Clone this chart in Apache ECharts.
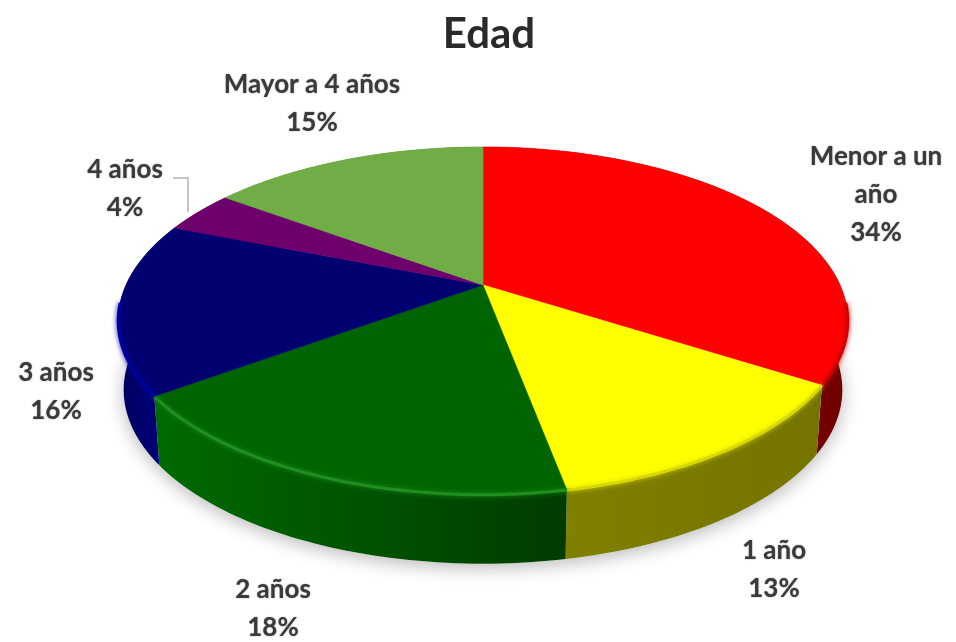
<!DOCTYPE html>
<html><head><meta charset="utf-8">
<style>html,body{margin:0;padding:0;background:#fff}#c{width:956px;height:642px}</style>
<script src="https://cdn.jsdelivr.net/npm/echarts@6/dist/echarts.min.js"></script>
</head><body><div id="c"></div>
<script>
const titleText = 'Edad';
const categories = ['Menor a un\naño', '1 año', '2 años', '3 años', '4 años', 'Mayor a 4 años'];
const values = [34, 13, 18, 16, 4, 15];

// Styles and layout, kept apart from the data
const topColors = ['#ff0000', '#ffff00', '#006400', '#000070', '#6e006e', '#70ad47'];
const sideColors = [['#a80000', '#700000'], ['#808000', '#747400'], ['#006a00', '#003c00'], ['#000060', '#000080'], ['#400040', '#400040'], ['#40602a', '#40602a']];
const rimColors = ['#d00000', '#d8d800', '#1f8f1f', '#0000a0', '#6e006e', '#70ad47'];
const labelCenters = [[876, 157], [774, 551], [273, 590], [56, 373], [125, 170], [312, 85]];
const P = { cx: 483, cy: 285, a: 357, b: 166.5, k: 0.206, depth: 69, inset: 0.985 };

const total = values.reduce((s, v) => s + v, 0);
const starts = values.reduce((acc, v, i) => { acc.push(i ? acc[i - 1] + values[i - 1] : 0); return acc; }, []);

function topPt(t) {
  const u = Math.sin(t), v = Math.cos(t), w = 1 + P.k * v;
  return [P.cx + P.a * u / w, P.cy - P.b * v / w];
}
function botPt(t) {
  const p = topPt(t);
  return [P.cx + (p[0] - P.cx) * P.inset, p[1] + P.depth];
}
function arc(fn, i) {
  const a0 = starts[i] / total * 2 * Math.PI, a1 = (starts[i] + values[i]) / total * 2 * Math.PI;
  const n = Math.max(8, Math.round(values[i] * 3)), pts = [];
  for (let j = 0; j <= n; j++) pts.push(fn(a0 + (a1 - a0) * j / n));
  return pts;
}
const seriesData = values.map((v, i) => [i, v]);

function shadowItem(params) {
  const i = params.dataIndex;
  return { type: 'polygon', shape: { points: [[P.cx, P.cy + P.depth]].concat(arc(botPt, i)) },
    style: { fill: '#fff', shadowBlur: 18, shadowColor: 'rgba(0,0,0,0.28)', shadowOffsetY: 4 } };
}
function sideItem(params) {
  const i = params.dataIndex;
  const t = arc(topPt, i), b = arc(botPt, i).reverse();
  return { type: 'polygon', shape: { points: t.concat(b) },
    style: { fill: { type: 'linear', x: 0, y: 0, x2: 1, y2: 0, colorStops: [
      { offset: 0, color: sideColors[i][0] }, { offset: 1, color: sideColors[i][1] }] } } };
}
function topItem(params) {
  const i = params.dataIndex;
  const pts = arc(topPt, i);
  const children = [{ type: 'polygon', shape: { points: [[P.cx, P.cy]].concat(pts) },
    style: { fill: topColors[i], stroke: topColors[i], lineWidth: 0.6 } }];
  const front = pts.filter(p => p[1] > 300);
  if (front.length > 1) children.push({ type: 'polyline', shape: { points: front },
    style: { fill: 'none', stroke: rimColors[i], lineWidth: 3, shadowBlur: 5, shadowColor: rimColors[i] } });
  return { type: 'group', children };
}
function labelItem(params, api) {
  const i = params.dataIndex, c = labelCenters[i];
  const lines = categories[i].split('\n').length;
  return { type: 'text', x: c[0], y: c[1] - 19,
    style: { text: categories[i] + '\n' + api.value(1) + '%', x: 0, y: 0, align: 'center', verticalAlign: 'top',
      font: 'bold 26px Lato', lineHeight: 38, fill: '#3a3a3a', textShadowBlur: 1.5, textShadowColor: 'rgba(60,60,60,0.6)' } };
}

const chart = echarts.init(document.getElementById('c'), null, { renderer: 'canvas' });
chart.setOption({
  animation: false,
  backgroundColor: '#fff',
  title: { text: titleText, left: 484, top: 8, textAlign: 'center',
    textStyle: { fontFamily: 'Lato', fontWeight: 'bold', fontSize: 42, color: '#2a2a2a' } },
  series: [
    { type: 'custom', coordinateSystem: 'none', z: 1, data: seriesData, renderItem: shadowItem, silent: true },
    { type: 'custom', coordinateSystem: 'none', z: 2, data: seriesData, renderItem: sideItem, silent: true },
    { type: 'custom', coordinateSystem: 'none', z: 3, data: seriesData, renderItem: topItem, silent: true },
    { type: 'custom', coordinateSystem: 'none', z: 4, data: seriesData, renderItem: labelItem, silent: true }
  ],
  graphic: [{ type: 'polyline', z: 5, shape: { points: [[173, 178], [188, 178], [188, 212]] },
    style: { fill: 'none', stroke: '#b4b4b4', lineWidth: 1.5 } }]
});
</script></body></html>
